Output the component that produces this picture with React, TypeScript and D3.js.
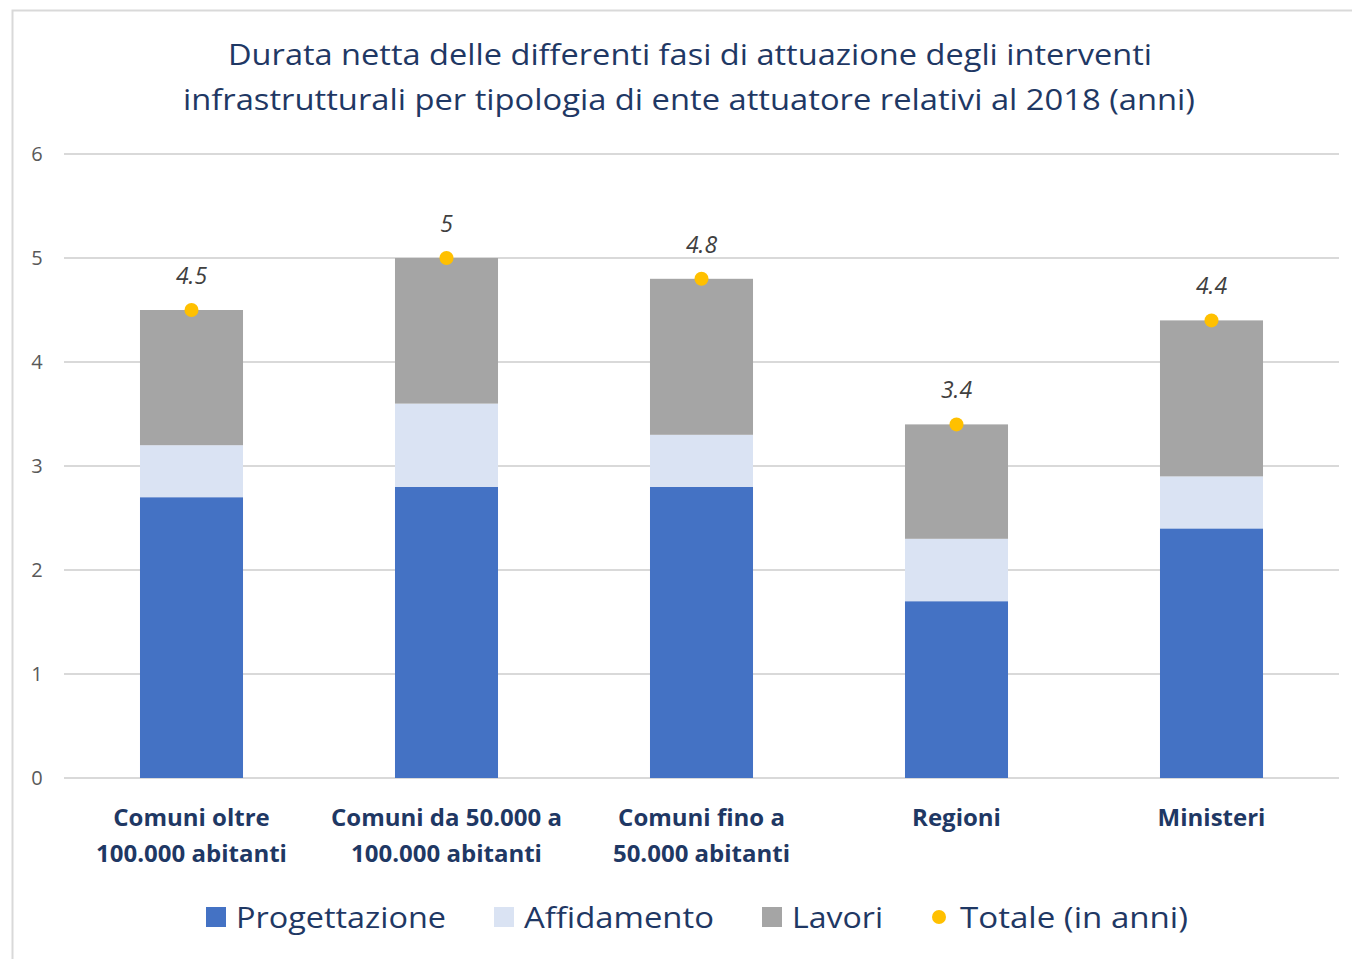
import React, { useEffect, useRef } from 'react';
import * as d3 from 'd3';

const categories = [
  ['Comuni oltre', '100.000 abitanti'],
  ['Comuni da 50.000 a', '100.000 abitanti'],
  ['Comuni fino a', '50.000 abitanti'],
  ['Regioni'],
  ['Ministeri'],
];
const progettazione = [2.7, 2.8, 2.8, 1.7, 2.4];
const affidamento = [0.5, 0.8, 0.5, 0.6, 0.5];
const lavori = [1.3, 1.4, 1.5, 1.1, 1.5];
const totale = [4.5, 5, 4.8, 3.4, 4.4];
const seriesNames = ['Progettazione', 'Affidamento', 'Lavori'];
const seriesColors = ['#4472C4', '#DAE3F3', '#A5A5A5'];
const yTicks = [0, 1, 2, 3, 4, 5, 6];

const FONT = '"Open Sans", Lato, sans-serif';
const NAVY = '#1F3864';

const App = () => {
  const svgRef = useRef<SVGSVGElement>(null);

  useEffect(() => {
    const svg = d3.select(svgRef.current);
    svg.selectAll('*').remove();

    const W = 1352, H = 959;
    svg.attr('width', W).attr('height', H);

    // chart frame
    svg.append('path')
      .attr('d', `M12.5,${H} L12.5,10.5 L${W},10.5`)
      .attr('fill', 'none')
      .attr('stroke', '#D9D9D9')
      .attr('stroke-width', 2);

    // title
    const title = svg.append('text')
      .attr('text-anchor', 'middle')
      .attr('font-family', FONT)
      .attr('font-size', 29)
      .attr('fill', NAVY);
    title.append('tspan').attr('x', 690).attr('y', 65)
      .attr('textLength', 924).attr('lengthAdjust', 'spacingAndGlyphs')
      .text('Durata netta delle differenti fasi di attuazione degli interventi');
    title.append('tspan').attr('x', 689).attr('y', 110)
      .attr('textLength', 1012).attr('lengthAdjust', 'spacingAndGlyphs')
      .text('infrastrutturali per tipologia di ente attuatore relativi al 2018 (anni)');

    const x = d3.scaleBand<number>()
      .domain(d3.range(categories.length))
      .range([64, 1339])
      .paddingInner(0.596)
      .paddingOuter(0.298);

    const y = d3.scaleLinear().domain([0, 6]).range([778, 154]);

    // gridlines
    svg.append('g')
      .selectAll('line')
      .data(yTicks)
      .enter()
      .append('line')
      .attr('x1', 64).attr('x2', 1339)
      .attr('y1', d => y(d)).attr('y2', d => y(d))
      .attr('stroke', '#D9D9D9')
      .attr('stroke-width', 2);

    // y tick labels
    svg.append('g')
      .selectAll('text')
      .data(yTicks)
      .enter()
      .append('text')
      .attr('x', 37)
      .attr('y', d => y(d))
      .attr('dy', '0.35em')
      .attr('text-anchor', 'middle')
      .attr('font-family', FONT)
      .attr('font-size', 20)
      .attr('fill', '#595959')
      .text(d => d);

    // stacked bars
    const rows = categories.map((_, i) => ({
      i,
      Progettazione: progettazione[i],
      Affidamento: affidamento[i],
      Lavori: lavori[i],
    }));
    const stacked = d3.stack<any>().keys(seriesNames)(rows);

    svg.append('g')
      .selectAll('g')
      .data(stacked)
      .enter()
      .append('g')
      .attr('fill', (_, k) => seriesColors[k])
      .selectAll('rect')
      .data(d => d)
      .enter()
      .append('rect')
      .attr('x', d => x(d.data.i)!)
      .attr('width', x.bandwidth())
      .attr('y', d => y(d[1]))
      .attr('height', d => y(d[0]) - y(d[1]));

    // totale dots and labels
    const tot = svg.append('g');
    tot.selectAll('circle')
      .data(totale)
      .enter()
      .append('circle')
      .attr('cx', (_, i) => x(i)! + x.bandwidth() / 2)
      .attr('cy', d => y(d))
      .attr('r', 7)
      .attr('fill', '#FFC000');
    tot.selectAll('text')
      .data(totale)
      .enter()
      .append('text')
      .attr('x', (_, i) => x(i)! + x.bandwidth() / 2)
      .attr('y', d => y(d) - 26)
      .attr('text-anchor', 'middle')
      .attr('font-family', FONT)
      .attr('font-style', 'italic')
      .attr('font-size', 23)
      .attr('fill', '#404040')
      .text(d => d);

    // category labels
    const cat = svg.append('g');
    categories.forEach((lines, i) => {
      const t = cat.append('text')
        .attr('text-anchor', 'middle')
        .attr('font-family', FONT)
        .attr('font-weight', 'bold')
        .attr('font-size', 24)
        .attr('fill', NAVY);
      lines.forEach((line, j) => {
        t.append('tspan')
          .attr('x', x(i)! + x.bandwidth() / 2)
          .attr('y', 826 + j * 36)
          .text(line);
      });
    });

    // legend
    const legend = svg.append('g').attr('font-family', FONT).attr('font-size', 30).attr('fill', NAVY);
    const legendItems = [...seriesNames, 'Totale (in anni)'];
    const legendX = [206, 494, 762, 930];
    const legendLen = [210, 190, 91, 228];
    legendItems.forEach((name, k) => {
      const lx = legendX[k];
      if (k < 3) {
        legend.append('rect')
          .attr('x', lx).attr('y', 907)
          .attr('width', 20).attr('height', 20)
          .attr('fill', seriesColors[k]);
      } else {
        legend.append('circle')
          .attr('cx', lx + 9).attr('cy', 917)
          .attr('r', 7)
          .attr('fill', '#FFC000');
      }
      legend.append('text')
        .attr('x', lx + 30)
        .attr('y', 928)
        .attr('textLength', legendLen[k])
        .attr('lengthAdjust', 'spacingAndGlyphs')
        .text(name);
    });
  }, []);

  return <svg ref={svgRef} style={{ position: 'absolute', left: 0, top: 0 }}></svg>;
};

export default App;
